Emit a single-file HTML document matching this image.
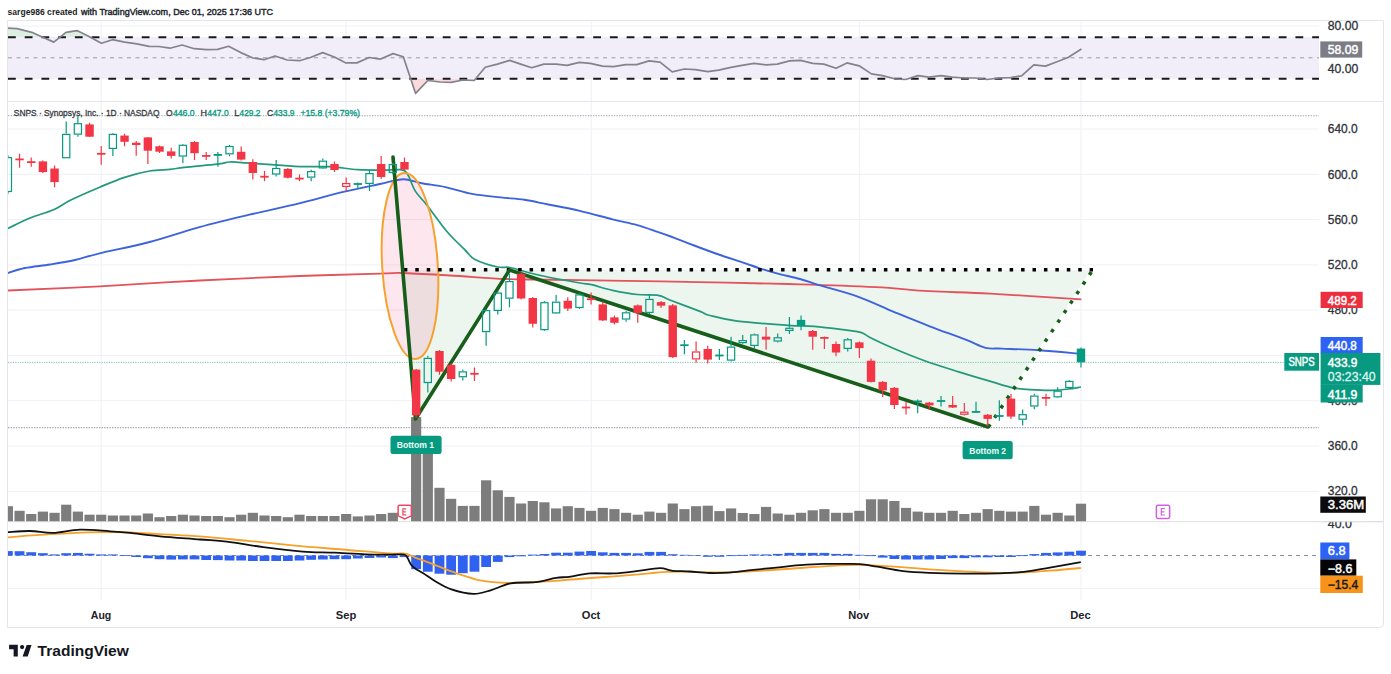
<!DOCTYPE html>
<html><head><meta charset="utf-8"><title>SNPS chart</title><style>html,body{margin:0;padding:0;background:#fff;}body{width:1391px;height:674px;overflow:hidden;font-family:"Liberation Sans",sans-serif;}svg{display:block;}</style></head><body>
<svg width="1391" height="674" viewBox="0 0 1391 674" font-family="Liberation Sans, sans-serif">
<rect width="1391" height="674" fill="#fff"/>
<defs><clipPath id="plot"><rect x="8" y="21" width="1311" height="580"/></clipPath><clipPath id="rsi"><rect x="8" y="21" width="1311" height="80"/></clipPath><clipPath id="main"><rect x="8" y="102" width="1311" height="419.5"/></clipPath><clipPath id="macd"><rect x="8" y="522" width="1311" height="78"/></clipPath></defs>
<g stroke="#eef0f4" stroke-width="1"><line x1="8" y1="129" x2="1319" y2="129"/><line x1="8" y1="174.3" x2="1319" y2="174.3"/><line x1="8" y1="219.6" x2="1319" y2="219.6"/><line x1="8" y1="264.9" x2="1319" y2="264.9"/><line x1="8" y1="310.1" x2="1319" y2="310.1"/><line x1="8" y1="355.4" x2="1319" y2="355.4"/><line x1="8" y1="400.7" x2="1319" y2="400.7"/><line x1="8" y1="446" x2="1319" y2="446"/><line x1="8" y1="491.3" x2="1319" y2="491.3"/><line x1="8" y1="26" x2="1319" y2="26"/><line x1="8" y1="69" x2="1319" y2="69"/><line x1="8" y1="588.6" x2="1319" y2="588.6"/><line x1="101.2" y1="21" x2="101.2" y2="600"/><line x1="346" y1="21" x2="346" y2="600"/><line x1="591.2" y1="21" x2="591.2" y2="600"/><line x1="859.4" y1="21" x2="859.4" y2="600"/><line x1="1081" y1="21" x2="1081" y2="600"/></g>
<path d="M7.5,20.5 H1383.5 V622.5 Q1383.5,627.5 1378.5,627.5 H7.5 Z" fill="none" stroke="#e3e5ea" stroke-width="1"/>
<line x1="7.5" y1="101.5" x2="1383.5" y2="101.5" stroke="#e3e5ea"/>
<line x1="7.5" y1="521.7" x2="1383.5" y2="521.7" stroke="#dcdee3"/>
<g clip-path="url(#rsi)">
<rect x="8" y="37.2" width="1311" height="41.6" fill="#f1eef9"/>
<clipPath id="ob"><rect x="8" y="21" width="1311" height="16.2"/></clipPath>
<clipPath id="os"><rect x="8" y="78.8" width="1311" height="25"/></clipPath>
<polygon clip-path="url(#ob)" points="7.9,37.2 7.9,28.2 17.1,28.7 31.8,32.3 42.8,37.2 53.8,42.1 66.0,32.3 77.0,30.6 88.0,36.0 101.4,43.3 112.4,39.7 124.7,42.1 136.9,43.8 149.1,46.3 158.9,46.5 169.9,48.2 182.1,45.0 194.3,48.7 206.6,49.7 217.6,49.4 228.6,46.3 240.8,52.6 253.0,58.0 264.0,59.7 275.0,56.0 287.2,60.0 299.4,60.7 310.4,57.5 322.7,52.6 334.4,57.0 345.9,62.9 356.9,62.9 369.1,57.5 380.1,59.2 393.1,53.6 403.3,56.8 415.6,93.4 427.8,80.5 440.0,82.0 451.0,82.4 463.2,80.0 474.2,80.5 485.2,67.3 497.4,64.1 509.7,60.4 520.7,64.1 531.7,67.8 543.9,64.1 556.1,64.1 567.1,65.3 579.3,62.4 590.3,63.4 602.5,66.1 613.5,66.6 625.8,64.6 636.8,64.6 649.0,60.9 660.0,62.2 672.2,71.9 684.4,69.0 695.4,69.7 707.7,71.7 718.7,70.2 730.9,67.3 741.9,65.3 754.1,63.4 766.3,64.8 777.3,64.1 789.6,60.9 800.6,60.4 812.8,63.4 823.8,64.1 836.0,68.3 847.0,62.9 859.2,65.8 871.4,73.9 882.4,75.6 894.7,78.8 905.7,79.5 917.9,75.6 928.9,77.1 941.1,75.6 952.1,77.1 964.3,78.0 975.3,78.0 987.3,79.5 998.3,78.0 1010.6,77.6 1021.6,75.8 1033.8,64.8 1045.5,66.1 1057.0,61.7 1068.0,57.5 1081.4,49.0 1081.4,37.2" fill="#dcefe0"/>
<polygon clip-path="url(#os)" points="7.9,78.8 7.9,28.2 17.1,28.7 31.8,32.3 42.8,37.2 53.8,42.1 66.0,32.3 77.0,30.6 88.0,36.0 101.4,43.3 112.4,39.7 124.7,42.1 136.9,43.8 149.1,46.3 158.9,46.5 169.9,48.2 182.1,45.0 194.3,48.7 206.6,49.7 217.6,49.4 228.6,46.3 240.8,52.6 253.0,58.0 264.0,59.7 275.0,56.0 287.2,60.0 299.4,60.7 310.4,57.5 322.7,52.6 334.4,57.0 345.9,62.9 356.9,62.9 369.1,57.5 380.1,59.2 393.1,53.6 403.3,56.8 415.6,93.4 427.8,80.5 440.0,82.0 451.0,82.4 463.2,80.0 474.2,80.5 485.2,67.3 497.4,64.1 509.7,60.4 520.7,64.1 531.7,67.8 543.9,64.1 556.1,64.1 567.1,65.3 579.3,62.4 590.3,63.4 602.5,66.1 613.5,66.6 625.8,64.6 636.8,64.6 649.0,60.9 660.0,62.2 672.2,71.9 684.4,69.0 695.4,69.7 707.7,71.7 718.7,70.2 730.9,67.3 741.9,65.3 754.1,63.4 766.3,64.8 777.3,64.1 789.6,60.9 800.6,60.4 812.8,63.4 823.8,64.1 836.0,68.3 847.0,62.9 859.2,65.8 871.4,73.9 882.4,75.6 894.7,78.8 905.7,79.5 917.9,75.6 928.9,77.1 941.1,75.6 952.1,77.1 964.3,78.0 975.3,78.0 987.3,79.5 998.3,78.0 1010.6,77.6 1021.6,75.8 1033.8,64.8 1045.5,66.1 1057.0,61.7 1068.0,57.5 1081.4,49.0 1081.4,78.8" fill="#fbdada"/>
<line x1="8" y1="57.8" x2="1319" y2="57.8" stroke="#9a9aa2" stroke-width="1" stroke-dasharray="4,4.5"/>
<line x1="8" y1="37.2" x2="1319" y2="37.2" stroke="#1a1a1a" stroke-width="2.1" stroke-dasharray="7.8,8.92"/>
<line x1="8" y1="78.8" x2="1319" y2="78.8" stroke="#1a1a1a" stroke-width="2.1" stroke-dasharray="7.8,8.92"/>
<polyline points="7.9,28.2 17.1,28.7 31.8,32.3 42.8,37.2 53.8,42.1 66.0,32.3 77.0,30.6 88.0,36.0 101.4,43.3 112.4,39.7 124.7,42.1 136.9,43.8 149.1,46.3 158.9,46.5 169.9,48.2 182.1,45.0 194.3,48.7 206.6,49.7 217.6,49.4 228.6,46.3 240.8,52.6 253.0,58.0 264.0,59.7 275.0,56.0 287.2,60.0 299.4,60.7 310.4,57.5 322.7,52.6 334.4,57.0 345.9,62.9 356.9,62.9 369.1,57.5 380.1,59.2 393.1,53.6 403.3,56.8 415.6,93.4 427.8,80.5 440.0,82.0 451.0,82.4 463.2,80.0 474.2,80.5 485.2,67.3 497.4,64.1 509.7,60.4 520.7,64.1 531.7,67.8 543.9,64.1 556.1,64.1 567.1,65.3 579.3,62.4 590.3,63.4 602.5,66.1 613.5,66.6 625.8,64.6 636.8,64.6 649.0,60.9 660.0,62.2 672.2,71.9 684.4,69.0 695.4,69.7 707.7,71.7 718.7,70.2 730.9,67.3 741.9,65.3 754.1,63.4 766.3,64.8 777.3,64.1 789.6,60.9 800.6,60.4 812.8,63.4 823.8,64.1 836.0,68.3 847.0,62.9 859.2,65.8 871.4,73.9 882.4,75.6 894.7,78.8 905.7,79.5 917.9,75.6 928.9,77.1 941.1,75.6 952.1,77.1 964.3,78.0 975.3,78.0 987.3,79.5 998.3,78.0 1010.6,77.6 1021.6,75.8 1033.8,64.8 1045.5,66.1 1057.0,61.7 1068.0,57.5 1081.4,49.0" fill="none" stroke="#858290" stroke-width="1.7" stroke-linejoin="round"/>
</g>
<g clip-path="url(#main)">
<polygon points="403,270 415.5,419 509.5,270" fill="#edf5ef"/>
<polygon points="509.5,270 988,427 1091,270" fill="#edf5ef"/>
<ellipse cx="410" cy="266" rx="27.8" ry="93.2" transform="rotate(-3.5 410 266)" fill="#e91e63" fill-opacity="0.11"/>
<line x1="8" y1="115.7" x2="1319" y2="115.7" stroke="#b4b7bf" stroke-width="1.3" stroke-dasharray="1.4,1.2"/>
<line x1="8" y1="427.6" x2="1319" y2="427.6" stroke="#a4a7b0" stroke-width="1.4" stroke-dasharray="1.4,1.2"/>
<line x1="8" y1="362.4" x2="1284" y2="362.4" stroke="#7cc6b6" stroke-width="1" stroke-dasharray="1.2,1.2"/>
<g fill="#7d7d7d"><rect x="2.80" y="506.2" width="10.2" height="15.3"/><rect x="14.46" y="510.8" width="10.2" height="10.7"/><rect x="26.13" y="514" width="10.2" height="7.5"/><rect x="37.79" y="511.6" width="10.2" height="9.9"/><rect x="49.46" y="512.8" width="10.2" height="8.7"/><rect x="61.12" y="504.7" width="10.2" height="16.8"/><rect x="72.78" y="511.6" width="10.2" height="9.9"/><rect x="84.45" y="514.7" width="10.2" height="6.8"/><rect x="96.11" y="514.7" width="10.2" height="6.8"/><rect x="107.78" y="515.5" width="10.2" height="6.0"/><rect x="119.44" y="515.5" width="10.2" height="6.0"/><rect x="131.10" y="515.5" width="10.2" height="6.0"/><rect x="142.77" y="513.5" width="10.2" height="8.0"/><rect x="154.43" y="517.2" width="10.2" height="4.3"/><rect x="166.10" y="516" width="10.2" height="5.5"/><rect x="177.76" y="514.7" width="10.2" height="6.8"/><rect x="189.42" y="515.5" width="10.2" height="6.0"/><rect x="201.09" y="516" width="10.2" height="5.5"/><rect x="212.75" y="516" width="10.2" height="5.5"/><rect x="224.42" y="517.2" width="10.2" height="4.3"/><rect x="236.08" y="514.7" width="10.2" height="6.8"/><rect x="247.74" y="512.8" width="10.2" height="8.7"/><rect x="259.41" y="515.5" width="10.2" height="6.0"/><rect x="271.07" y="516" width="10.2" height="5.5"/><rect x="282.74" y="517.2" width="10.2" height="4.3"/><rect x="294.40" y="514.7" width="10.2" height="6.8"/><rect x="306.06" y="516" width="10.2" height="5.5"/><rect x="317.73" y="516" width="10.2" height="5.5"/><rect x="329.39" y="516" width="10.2" height="5.5"/><rect x="341.06" y="514" width="10.2" height="7.5"/><rect x="352.72" y="516.4" width="10.2" height="5.1"/><rect x="364.38" y="515.5" width="10.2" height="6.0"/><rect x="376.05" y="514" width="10.2" height="7.5"/><rect x="387.71" y="512.8" width="10.2" height="8.7"/><rect x="399.38" y="521.5" width="10.2" height="0.0"/><rect x="411.04" y="417.1" width="10.2" height="104.4"/><rect x="422.70" y="440" width="10.2" height="81.5"/><rect x="434.37" y="487.8" width="10.2" height="33.7"/><rect x="446.03" y="498.8" width="10.2" height="22.7"/><rect x="457.70" y="505.9" width="10.2" height="15.6"/><rect x="469.36" y="505.9" width="10.2" height="15.6"/><rect x="481.02" y="480.3" width="10.2" height="41.2"/><rect x="492.69" y="490.3" width="10.2" height="31.2"/><rect x="504.35" y="496.9" width="10.2" height="24.6"/><rect x="516.02" y="503.5" width="10.2" height="18.0"/><rect x="527.68" y="501" width="10.2" height="20.5"/><rect x="539.34" y="502.3" width="10.2" height="19.2"/><rect x="551.01" y="508.4" width="10.2" height="13.1"/><rect x="562.67" y="506.2" width="10.2" height="15.3"/><rect x="574.34" y="507.9" width="10.2" height="13.6"/><rect x="586.00" y="510.8" width="10.2" height="10.7"/><rect x="597.66" y="507.9" width="10.2" height="13.6"/><rect x="609.33" y="509.1" width="10.2" height="12.4"/><rect x="620.99" y="512.8" width="10.2" height="8.7"/><rect x="632.66" y="514.7" width="10.2" height="6.8"/><rect x="644.32" y="511.6" width="10.2" height="9.9"/><rect x="655.98" y="512.8" width="10.2" height="8.7"/><rect x="667.65" y="503.5" width="10.2" height="18.0"/><rect x="679.31" y="509.1" width="10.2" height="12.4"/><rect x="690.98" y="506.2" width="10.2" height="15.3"/><rect x="702.64" y="505.7" width="10.2" height="15.8"/><rect x="714.30" y="511.1" width="10.2" height="10.4"/><rect x="725.97" y="508.4" width="10.2" height="13.1"/><rect x="737.63" y="513" width="10.2" height="8.5"/><rect x="749.30" y="514" width="10.2" height="7.5"/><rect x="760.96" y="506.9" width="10.2" height="14.6"/><rect x="772.62" y="513.5" width="10.2" height="8.0"/><rect x="784.29" y="514.7" width="10.2" height="6.8"/><rect x="795.95" y="512.8" width="10.2" height="8.7"/><rect x="807.62" y="510.3" width="10.2" height="11.2"/><rect x="819.28" y="509.1" width="10.2" height="12.4"/><rect x="830.94" y="512.8" width="10.2" height="8.7"/><rect x="842.61" y="512.8" width="10.2" height="8.7"/><rect x="854.27" y="510.8" width="10.2" height="10.7"/><rect x="865.94" y="499.3" width="10.2" height="22.2"/><rect x="877.60" y="499.3" width="10.2" height="22.2"/><rect x="889.26" y="501" width="10.2" height="20.5"/><rect x="900.93" y="507.9" width="10.2" height="13.6"/><rect x="912.59" y="511.6" width="10.2" height="9.9"/><rect x="924.26" y="512.8" width="10.2" height="8.7"/><rect x="935.92" y="512.8" width="10.2" height="8.7"/><rect x="947.58" y="510.8" width="10.2" height="10.7"/><rect x="959.25" y="514" width="10.2" height="7.5"/><rect x="970.91" y="512.8" width="10.2" height="8.7"/><rect x="982.58" y="509.1" width="10.2" height="12.4"/><rect x="994.24" y="510.8" width="10.2" height="10.7"/><rect x="1005.90" y="511.6" width="10.2" height="9.9"/><rect x="1017.57" y="511.6" width="10.2" height="9.9"/><rect x="1029.23" y="505.9" width="10.2" height="15.6"/><rect x="1040.90" y="514.7" width="10.2" height="6.8"/><rect x="1052.56" y="512.8" width="10.2" height="8.7"/><rect x="1064.22" y="515.5" width="10.2" height="6.0"/><rect x="1075.89" y="503.7" width="10.2" height="17.8"/></g>
<path d="M8.0,290.5 C23.3,289.8 68.0,288.0 100.0,286.3 C132.0,284.6 166.7,282.2 200.0,280.5 C233.3,278.8 270.0,277.1 300.0,276.0 C330.0,274.9 363.0,274.2 380.0,273.7 C397.0,273.2 390.3,272.7 402.0,273.0 C413.7,273.3 432.8,274.5 450.0,275.5 C467.2,276.5 490.0,278.3 505.0,279.0 C520.0,279.7 527.5,279.4 540.0,279.6 C552.5,279.8 559.7,279.8 580.0,280.1 C600.3,280.4 637.1,281.0 661.6,281.4 C686.1,281.8 703.8,282.2 726.9,282.7 C750.0,283.2 775.2,283.6 800.0,284.3 C824.8,285.0 854.2,286.0 875.8,287.1 C897.4,288.2 910.7,290.1 929.7,291.2 C948.7,292.3 964.7,292.2 990.0,293.6 C1015.3,295.0 1066.2,298.4 1081.4,299.3" fill="none" stroke="#e2535b" stroke-width="1.8"/>
<path d="M8.0,273.0 C10.8,272.2 17.9,269.4 24.9,268.0 C31.9,266.6 41.5,265.8 49.9,264.5 C58.2,263.2 66.7,261.9 75.0,260.0 C83.3,258.1 87.3,256.3 99.7,253.3 C112.1,250.3 133.0,246.4 149.6,242.0 C166.2,237.6 182.8,231.7 199.4,227.1 C216.0,222.5 232.7,218.6 249.3,214.7 C265.9,210.8 284.0,207.1 299.1,203.4 C314.2,199.7 326.5,195.9 340.0,192.7 C353.5,189.5 371.7,185.8 380.0,184.0 C388.3,182.2 386.0,182.4 390.0,181.6 C394.0,180.8 398.9,178.9 404.2,179.2 C409.5,179.5 414.7,181.9 421.6,183.2 C428.5,184.5 437.0,185.3 445.4,187.1 C453.8,188.9 463.0,192.2 472.2,193.9 C481.4,195.6 492.0,196.4 500.7,197.4 C509.4,198.4 516.5,198.6 524.4,199.8 C532.3,201.0 539.0,202.7 548.2,204.5 C557.4,206.3 569.1,208.4 579.8,210.9 C590.5,213.4 603.0,217.0 612.6,219.4 C622.2,221.8 629.5,223.0 637.1,225.1 C644.7,227.2 652.3,230.1 658.3,232.1 C664.3,234.1 667.0,235.1 673.0,237.3 C679.0,239.5 686.6,242.6 694.2,245.5 C701.8,248.4 710.5,251.7 718.7,254.5 C726.9,257.4 736.4,260.3 743.2,262.6 C750.0,264.9 754.0,266.5 759.5,268.3 C765.0,270.1 769.1,271.4 775.9,273.2 C782.6,275.0 792.9,277.1 800.0,279.0 C807.1,280.9 808.7,282.0 818.3,284.9 C827.9,287.8 845.2,292.1 857.8,296.6 C870.4,301.1 881.8,306.9 893.8,311.9 C905.8,316.8 917.7,321.7 929.7,326.3 C941.7,330.9 956.4,336.1 965.7,339.7 C975.0,343.3 979.4,346.3 985.4,347.8 C991.4,349.3 993.1,348.2 1002.0,348.6 C1010.9,349.0 1025.8,349.4 1039.0,350.3 C1052.2,351.2 1074.3,353.3 1081.4,353.9" fill="none" stroke="#3d63dc" stroke-width="1.9"/>
<path d="M8.0,228.4 C11.7,226.7 22.4,221.1 30.0,218.0 C37.6,214.9 46.8,212.7 53.6,209.7 C60.4,206.7 63.1,203.8 70.8,200.0 C78.5,196.2 90.7,191.0 99.7,187.2 C108.7,183.4 116.3,180.0 124.6,177.3 C132.9,174.6 142.0,172.3 149.6,171.0 C157.2,169.7 164.2,170.0 170.0,169.4 C175.8,168.8 176.5,168.2 184.4,167.3 C192.3,166.4 209.9,165.1 217.4,164.2 C224.9,163.3 225.0,162.2 229.7,162.0 C234.4,161.8 239.9,162.4 245.6,162.8 C251.3,163.2 257.8,163.8 263.9,164.2 C270.0,164.6 276.1,165.0 282.2,165.4 C288.3,165.8 292.6,166.5 300.6,166.7 C308.6,166.9 320.4,166.2 330.0,166.7 C339.6,167.2 348.7,169.1 358.0,169.7 C367.3,170.2 379.0,170.0 386.0,170.0 C393.0,170.0 396.8,169.4 400.0,169.6 C403.2,169.8 403.5,169.8 405.0,171.0 C406.5,172.2 407.3,173.6 409.0,176.9 C410.7,180.2 412.4,186.5 415.3,191.1 C418.2,195.7 422.2,199.1 426.4,204.5 C430.6,209.9 436.7,218.4 440.6,223.5 C444.5,228.6 445.9,230.6 450.0,235.0 C454.1,239.4 460.8,245.9 465.0,250.0 C469.2,254.1 469.6,256.7 475.0,259.5 C480.4,262.3 491.7,265.7 497.5,267.0 C503.3,268.3 504.6,266.5 510.0,267.5 C515.4,268.5 523.3,271.3 530.0,273.0 C536.7,274.7 541.7,275.8 550.0,277.5 C558.3,279.2 573.1,281.8 580.0,283.0 C586.9,284.2 586.0,283.5 591.4,284.7 C596.8,285.9 605.0,288.8 612.6,290.4 C620.2,292.0 629.5,293.7 637.1,294.5 C644.7,295.3 652.8,294.4 658.3,295.3 C663.8,296.2 662.8,297.3 669.8,300.0 C676.8,302.7 693.3,308.8 700.0,311.4 C706.7,314.0 703.8,313.9 710.0,315.5 C716.2,317.1 724.5,319.6 737.5,321.2 C750.5,322.8 775.2,324.4 788.0,325.3 C800.8,326.2 804.4,325.6 814.2,326.4 C824.0,327.2 838.9,329.2 846.8,330.2 C854.7,331.2 857.6,331.4 861.5,332.6 C865.4,333.8 864.8,334.9 870.0,337.5 C875.2,340.1 883.4,344.1 892.6,348.0 C901.8,351.9 914.4,357.1 925.3,361.0 C936.2,364.9 947.0,368.2 957.9,371.6 C968.8,375.0 981.2,378.7 990.5,381.4 C999.8,384.1 1006.8,386.5 1013.4,387.9 C1020.0,389.3 1023.6,389.2 1030.0,389.6 C1036.4,390.0 1045.6,390.4 1052.0,390.3 C1058.4,390.2 1063.5,389.6 1068.3,389.0 C1073.1,388.4 1078.9,387.3 1081.0,387.0" fill="none" stroke="#22997a" stroke-width="1.75"/>
<ellipse cx="410" cy="266" rx="27.8" ry="93.2" transform="rotate(-3.5 410 266)" fill="none" stroke="#f5a12f" stroke-width="2"/>
<line x1="403.85" y1="269.7" x2="1093" y2="269.7" stroke="#000" stroke-width="3.5" stroke-dasharray="3.5,7.93"/>
<polyline points="393,157 415.5,419 509.5,270 988,427" fill="none" stroke="#175e1b" stroke-width="3.6" stroke-linejoin="round" stroke-linecap="round"/>
<line x1="988.2" y1="427.3" x2="1091.7" y2="271.5" stroke="#175e1b" stroke-width="3.5" stroke-dasharray="3.5,7.93"/>
<line x1="7.90" y1="155.0" x2="7.90" y2="157.0" stroke="#089981" stroke-width="1.2"/><line x1="7.90" y1="192.1" x2="7.90" y2="194.0" stroke="#089981" stroke-width="1.2"/><rect x="4.30" y="157.60" width="7.20" height="33.90" fill="none" stroke="#089981" stroke-width="1.2"/><line x1="19.56" y1="153.8" x2="19.56" y2="167.7" stroke="#f23645" stroke-width="1.2"/><rect x="15.36" y="158.50" width="8.4" height="1.8" fill="#f23645"/><line x1="31.23" y1="157.4" x2="31.23" y2="166.8" stroke="#f23645" stroke-width="1.2"/><rect x="27.03" y="161.20" width="8.4" height="1.8" fill="#f23645"/><line x1="42.89" y1="160.5" x2="42.89" y2="173.0" stroke="#f23645" stroke-width="1.2"/><rect x="38.69" y="161.40" width="8.4" height="10.70" fill="#f23645"/><line x1="54.56" y1="165.4" x2="54.56" y2="187.2" stroke="#f23645" stroke-width="1.2"/><rect x="50.36" y="168.50" width="8.4" height="13.60" fill="#f23645"/><line x1="66.22" y1="121.4" x2="66.22" y2="133.8" stroke="#089981" stroke-width="1.2"/><rect x="62.62" y="134.40" width="7.20" height="23.30" fill="none" stroke="#089981" stroke-width="1.2"/><line x1="77.88" y1="115.3" x2="77.88" y2="123.1" stroke="#089981" stroke-width="1.2"/><line x1="77.88" y1="134.7" x2="77.88" y2="136.7" stroke="#089981" stroke-width="1.2"/><rect x="74.28" y="123.70" width="7.20" height="10.40" fill="none" stroke="#089981" stroke-width="1.2"/><line x1="89.55" y1="122.7" x2="89.55" y2="137.0" stroke="#f23645" stroke-width="1.2"/><rect x="85.35" y="124.40" width="8.4" height="12.30" fill="#f23645"/><line x1="101.21" y1="146.0" x2="101.21" y2="164.8" stroke="#f23645" stroke-width="1.2"/><rect x="97.01" y="152.90" width="8.4" height="1.8" fill="#f23645"/><line x1="112.88" y1="133.0" x2="112.88" y2="133.8" stroke="#089981" stroke-width="1.2"/><line x1="112.88" y1="149.0" x2="112.88" y2="156.1" stroke="#089981" stroke-width="1.2"/><rect x="109.28" y="134.40" width="7.20" height="14.00" fill="none" stroke="#089981" stroke-width="1.2"/><line x1="124.54" y1="133.8" x2="124.54" y2="146.3" stroke="#f23645" stroke-width="1.2"/><rect x="120.34" y="135.60" width="8.4" height="6.20" fill="#f23645"/><line x1="136.20" y1="141.0" x2="136.20" y2="155.7" stroke="#f23645" stroke-width="1.2"/><rect x="132.00" y="142.70" width="8.4" height="2.30" fill="#f23645"/><line x1="147.87" y1="137.0" x2="147.87" y2="164.1" stroke="#f23645" stroke-width="1.2"/><rect x="143.67" y="137.40" width="8.4" height="13.30" fill="#f23645"/><line x1="159.53" y1="145.4" x2="159.53" y2="153.0" stroke="#f23645" stroke-width="1.2"/><rect x="155.33" y="146.30" width="8.4" height="5.40" fill="#f23645"/><line x1="171.20" y1="147.7" x2="171.20" y2="158.4" stroke="#f23645" stroke-width="1.2"/><rect x="167.00" y="151.40" width="8.4" height="4.50" fill="#f23645"/><line x1="182.86" y1="144.0" x2="182.86" y2="144.7" stroke="#089981" stroke-width="1.2"/><line x1="182.86" y1="156.6" x2="182.86" y2="163.2" stroke="#089981" stroke-width="1.2"/><rect x="179.26" y="145.30" width="7.20" height="10.70" fill="none" stroke="#089981" stroke-width="1.2"/><line x1="194.52" y1="141.0" x2="194.52" y2="160.0" stroke="#f23645" stroke-width="1.2"/><rect x="190.32" y="142.00" width="8.4" height="11.20" fill="#f23645"/><line x1="206.19" y1="152.0" x2="206.19" y2="160.0" stroke="#f23645" stroke-width="1.2"/><rect x="201.99" y="155.00" width="8.4" height="1.8" fill="#f23645"/><line x1="217.85" y1="152.0" x2="217.85" y2="166.7" stroke="#089981" stroke-width="1.2"/><rect x="213.65" y="154.00" width="8.4" height="1.80" fill="#089981"/><line x1="229.52" y1="144.9" x2="229.52" y2="145.9" stroke="#089981" stroke-width="1.2"/><line x1="229.52" y1="154.4" x2="229.52" y2="156.3" stroke="#089981" stroke-width="1.2"/><rect x="225.92" y="146.50" width="7.20" height="7.30" fill="none" stroke="#089981" stroke-width="1.2"/><line x1="241.18" y1="146.5" x2="241.18" y2="160.5" stroke="#f23645" stroke-width="1.2"/><rect x="236.98" y="151.80" width="8.4" height="7.80" fill="#f23645"/><line x1="252.84" y1="159.3" x2="252.84" y2="179.5" stroke="#f23645" stroke-width="1.2"/><rect x="248.64" y="162.00" width="8.4" height="11.00" fill="#f23645"/><line x1="264.51" y1="171.0" x2="264.51" y2="181.3" stroke="#f23645" stroke-width="1.2"/><rect x="260.31" y="175.80" width="8.4" height="1.8" fill="#f23645"/><line x1="276.17" y1="160.0" x2="276.17" y2="167.9" stroke="#089981" stroke-width="1.2"/><line x1="276.17" y1="174.6" x2="276.17" y2="176.4" stroke="#089981" stroke-width="1.2"/><rect x="272.57" y="168.50" width="7.20" height="5.50" fill="none" stroke="#089981" stroke-width="1.2"/><line x1="287.84" y1="168.0" x2="287.84" y2="178.5" stroke="#f23645" stroke-width="1.2"/><rect x="283.64" y="168.90" width="8.4" height="8.80" fill="#f23645"/><line x1="299.50" y1="174.6" x2="299.50" y2="181.3" stroke="#f23645" stroke-width="1.2"/><rect x="295.30" y="177.70" width="8.4" height="1.8" fill="#f23645"/><line x1="311.16" y1="169.7" x2="311.16" y2="171.0" stroke="#089981" stroke-width="1.2"/><line x1="311.16" y1="177.7" x2="311.16" y2="181.3" stroke="#089981" stroke-width="1.2"/><rect x="307.56" y="171.60" width="7.20" height="5.50" fill="none" stroke="#089981" stroke-width="1.2"/><line x1="322.83" y1="158.4" x2="322.83" y2="160.6" stroke="#089981" stroke-width="1.2"/><line x1="322.83" y1="168.5" x2="322.83" y2="169.0" stroke="#089981" stroke-width="1.2"/><rect x="319.23" y="161.20" width="7.20" height="6.70" fill="none" stroke="#089981" stroke-width="1.2"/><line x1="334.49" y1="161.5" x2="334.49" y2="172.0" stroke="#f23645" stroke-width="1.2"/><rect x="330.29" y="164.00" width="8.4" height="6.00" fill="#f23645"/><line x1="346.16" y1="177.5" x2="346.16" y2="183.0" stroke="#f23645" stroke-width="1.2"/><line x1="346.16" y1="187.0" x2="346.16" y2="191.0" stroke="#f23645" stroke-width="1.2"/><rect x="342.56" y="183.60" width="7.20" height="2.80" fill="none" stroke="#f23645" stroke-width="1.2"/><line x1="357.82" y1="182.5" x2="357.82" y2="189.0" stroke="#089981" stroke-width="1.2"/><rect x="353.62" y="183.10" width="8.4" height="1.8" fill="#089981"/><line x1="369.48" y1="170.0" x2="369.48" y2="173.0" stroke="#089981" stroke-width="1.2"/><line x1="369.48" y1="184.0" x2="369.48" y2="191.0" stroke="#089981" stroke-width="1.2"/><rect x="365.88" y="173.60" width="7.20" height="9.80" fill="none" stroke="#089981" stroke-width="1.2"/><line x1="381.15" y1="156.0" x2="381.15" y2="179.0" stroke="#f23645" stroke-width="1.2"/><rect x="376.95" y="164.00" width="8.4" height="13.00" fill="#f23645"/><line x1="392.81" y1="163.0" x2="392.81" y2="164.0" stroke="#089981" stroke-width="1.2"/><line x1="392.81" y1="173.0" x2="392.81" y2="174.0" stroke="#089981" stroke-width="1.2"/><rect x="389.21" y="164.60" width="7.20" height="7.80" fill="none" stroke="#089981" stroke-width="1.2"/><line x1="404.48" y1="157.5" x2="404.48" y2="170.0" stroke="#f23645" stroke-width="1.2"/><rect x="400.28" y="162.00" width="8.4" height="7.60" fill="#f23645"/><line x1="416.14" y1="369.0" x2="416.14" y2="418.0" stroke="#f23645" stroke-width="1.2"/><rect x="411.94" y="369.60" width="8.4" height="45.70" fill="#f23645"/><line x1="427.80" y1="355.7" x2="427.80" y2="357.8" stroke="#089981" stroke-width="1.2"/><line x1="427.80" y1="383.1" x2="427.80" y2="392.5" stroke="#089981" stroke-width="1.2"/><rect x="424.20" y="358.40" width="7.20" height="24.10" fill="none" stroke="#089981" stroke-width="1.2"/><line x1="439.47" y1="350.0" x2="439.47" y2="374.8" stroke="#f23645" stroke-width="1.2"/><rect x="435.27" y="351.00" width="8.4" height="20.70" fill="#f23645"/><line x1="451.13" y1="363.5" x2="451.13" y2="381.5" stroke="#f23645" stroke-width="1.2"/><rect x="446.93" y="364.80" width="8.4" height="14.20" fill="#f23645"/><line x1="462.80" y1="369.6" x2="462.80" y2="371.3" stroke="#089981" stroke-width="1.2"/><line x1="462.80" y1="377.3" x2="462.80" y2="380.6" stroke="#089981" stroke-width="1.2"/><rect x="459.20" y="371.90" width="7.20" height="4.80" fill="none" stroke="#089981" stroke-width="1.2"/><line x1="474.46" y1="367.5" x2="474.46" y2="381.0" stroke="#f23645" stroke-width="1.2"/><rect x="470.26" y="372.90" width="8.4" height="1.8" fill="#f23645"/><line x1="486.12" y1="309.0" x2="486.12" y2="310.0" stroke="#089981" stroke-width="1.2"/><line x1="486.12" y1="332.2" x2="486.12" y2="345.7" stroke="#089981" stroke-width="1.2"/><rect x="482.52" y="310.60" width="7.20" height="21.00" fill="none" stroke="#089981" stroke-width="1.2"/><line x1="497.79" y1="291.0" x2="497.79" y2="292.5" stroke="#089981" stroke-width="1.2"/><line x1="497.79" y1="311.0" x2="497.79" y2="314.5" stroke="#089981" stroke-width="1.2"/><rect x="494.19" y="293.10" width="7.20" height="17.30" fill="none" stroke="#089981" stroke-width="1.2"/><line x1="509.45" y1="273.75" x2="509.45" y2="281.0" stroke="#089981" stroke-width="1.2"/><line x1="509.45" y1="298.75" x2="509.45" y2="307.3" stroke="#089981" stroke-width="1.2"/><rect x="505.85" y="281.60" width="7.20" height="16.55" fill="none" stroke="#089981" stroke-width="1.2"/><line x1="521.12" y1="272.5" x2="521.12" y2="299.5" stroke="#f23645" stroke-width="1.2"/><rect x="516.92" y="273.75" width="8.4" height="24.75" fill="#f23645"/><line x1="532.78" y1="297.0" x2="532.78" y2="327.5" stroke="#f23645" stroke-width="1.2"/><rect x="528.58" y="298.00" width="8.4" height="25.75" fill="#f23645"/><line x1="544.44" y1="301.0" x2="544.44" y2="302.1" stroke="#089981" stroke-width="1.2"/><line x1="544.44" y1="330.2" x2="544.44" y2="331.0" stroke="#089981" stroke-width="1.2"/><rect x="540.84" y="302.70" width="7.20" height="26.90" fill="none" stroke="#089981" stroke-width="1.2"/><line x1="556.11" y1="295.0" x2="556.11" y2="301.6" stroke="#089981" stroke-width="1.2"/><line x1="556.11" y1="313.5" x2="556.11" y2="314.0" stroke="#089981" stroke-width="1.2"/><rect x="552.51" y="302.20" width="7.20" height="10.70" fill="none" stroke="#089981" stroke-width="1.2"/><line x1="567.77" y1="297.2" x2="567.77" y2="311.0" stroke="#f23645" stroke-width="1.2"/><rect x="563.57" y="300.80" width="8.4" height="7.80" fill="#f23645"/><line x1="579.44" y1="293.0" x2="579.44" y2="294.3" stroke="#089981" stroke-width="1.2"/><line x1="579.44" y1="308.1" x2="579.44" y2="309.0" stroke="#089981" stroke-width="1.2"/><rect x="575.84" y="294.90" width="7.20" height="12.60" fill="none" stroke="#089981" stroke-width="1.2"/><line x1="591.10" y1="292.6" x2="591.10" y2="304.4" stroke="#f23645" stroke-width="1.2"/><rect x="586.90" y="298.30" width="8.4" height="1.8" fill="#f23645"/><line x1="602.76" y1="301.6" x2="602.76" y2="321.0" stroke="#f23645" stroke-width="1.2"/><rect x="598.56" y="304.40" width="8.4" height="16.00" fill="#f23645"/><line x1="614.43" y1="315.5" x2="614.43" y2="324.4" stroke="#f23645" stroke-width="1.2"/><rect x="610.23" y="317.40" width="8.4" height="5.40" fill="#f23645"/><line x1="626.09" y1="311.0" x2="626.09" y2="312.2" stroke="#089981" stroke-width="1.2"/><line x1="626.09" y1="319.6" x2="626.09" y2="321.7" stroke="#089981" stroke-width="1.2"/><rect x="622.49" y="312.80" width="7.20" height="6.20" fill="none" stroke="#089981" stroke-width="1.2"/><line x1="637.76" y1="304.5" x2="637.76" y2="322.8" stroke="#f23645" stroke-width="1.2"/><rect x="633.56" y="305.40" width="8.4" height="7.60" fill="#f23645"/><line x1="649.42" y1="295.0" x2="649.42" y2="298.8" stroke="#089981" stroke-width="1.2"/><line x1="649.42" y1="313.0" x2="649.42" y2="314.0" stroke="#089981" stroke-width="1.2"/><rect x="645.82" y="299.40" width="7.20" height="13.00" fill="none" stroke="#089981" stroke-width="1.2"/><line x1="661.08" y1="301.0" x2="661.08" y2="308.0" stroke="#f23645" stroke-width="1.2"/><rect x="656.88" y="302.10" width="8.4" height="3.60" fill="#f23645"/><line x1="672.75" y1="304.0" x2="672.75" y2="358.0" stroke="#f23645" stroke-width="1.2"/><rect x="668.55" y="305.40" width="8.4" height="51.70" fill="#f23645"/><line x1="684.41" y1="340.0" x2="684.41" y2="354.3" stroke="#089981" stroke-width="1.2"/><rect x="680.21" y="344.30" width="8.4" height="1.8" fill="#089981"/><line x1="696.08" y1="341.6" x2="696.08" y2="351.4" stroke="#f23645" stroke-width="1.2"/><line x1="696.08" y1="359.5" x2="696.08" y2="362.8" stroke="#f23645" stroke-width="1.2"/><rect x="692.48" y="352.00" width="7.20" height="6.90" fill="none" stroke="#f23645" stroke-width="1.2"/><line x1="707.74" y1="345.7" x2="707.74" y2="363.6" stroke="#f23645" stroke-width="1.2"/><rect x="703.54" y="349.00" width="8.4" height="10.60" fill="#f23645"/><line x1="719.40" y1="349.0" x2="719.40" y2="360.0" stroke="#089981" stroke-width="1.2"/><rect x="715.20" y="354.60" width="8.4" height="1.8" fill="#089981"/><line x1="731.07" y1="336.7" x2="731.07" y2="346.5" stroke="#089981" stroke-width="1.2"/><line x1="731.07" y1="360.7" x2="731.07" y2="361.5" stroke="#089981" stroke-width="1.2"/><rect x="727.47" y="347.10" width="7.20" height="13.00" fill="none" stroke="#089981" stroke-width="1.2"/><line x1="742.73" y1="335.0" x2="742.73" y2="340.0" stroke="#089981" stroke-width="1.2"/><line x1="742.73" y1="343.2" x2="742.73" y2="344.0" stroke="#089981" stroke-width="1.2"/><rect x="739.13" y="340.60" width="7.20" height="2.00" fill="none" stroke="#089981" stroke-width="1.2"/><line x1="754.40" y1="333.5" x2="754.40" y2="334.3" stroke="#089981" stroke-width="1.2"/><line x1="754.40" y1="346.0" x2="754.40" y2="348.6" stroke="#089981" stroke-width="1.2"/><rect x="750.80" y="334.90" width="7.20" height="10.50" fill="none" stroke="#089981" stroke-width="1.2"/><line x1="766.06" y1="327.0" x2="766.06" y2="349.8" stroke="#f23645" stroke-width="1.2"/><rect x="761.86" y="336.70" width="8.4" height="2.90" fill="#f23645"/><line x1="777.72" y1="333.4" x2="777.72" y2="337.2" stroke="#089981" stroke-width="1.2"/><line x1="777.72" y1="341.6" x2="777.72" y2="342.5" stroke="#089981" stroke-width="1.2"/><rect x="774.12" y="337.80" width="7.20" height="3.20" fill="none" stroke="#089981" stroke-width="1.2"/><line x1="789.39" y1="317.0" x2="789.39" y2="327.7" stroke="#089981" stroke-width="1.2"/><line x1="789.39" y1="331.0" x2="789.39" y2="334.0" stroke="#089981" stroke-width="1.2"/><rect x="785.79" y="328.30" width="7.20" height="2.10" fill="none" stroke="#089981" stroke-width="1.2"/><line x1="801.05" y1="315.5" x2="801.05" y2="330.2" stroke="#089981" stroke-width="1.2"/><rect x="796.85" y="319.90" width="8.4" height="6.20" fill="#089981"/><line x1="812.72" y1="330.0" x2="812.72" y2="349.8" stroke="#f23645" stroke-width="1.2"/><rect x="808.52" y="331.00" width="8.4" height="5.70" fill="#f23645"/><line x1="824.38" y1="336.5" x2="824.38" y2="349.0" stroke="#f23645" stroke-width="1.2"/><rect x="820.18" y="337.00" width="8.4" height="1.8" fill="#f23645"/><line x1="836.04" y1="341.6" x2="836.04" y2="356.3" stroke="#f23645" stroke-width="1.2"/><rect x="831.84" y="344.00" width="8.4" height="8.50" fill="#f23645"/><line x1="847.71" y1="338.0" x2="847.71" y2="339.2" stroke="#089981" stroke-width="1.2"/><line x1="847.71" y1="349.0" x2="847.71" y2="351.4" stroke="#089981" stroke-width="1.2"/><rect x="844.11" y="339.80" width="7.20" height="8.60" fill="none" stroke="#089981" stroke-width="1.2"/><line x1="859.37" y1="341.5" x2="859.37" y2="357.9" stroke="#f23645" stroke-width="1.2"/><rect x="855.17" y="342.40" width="8.4" height="5.70" fill="#f23645"/><line x1="871.04" y1="358.6" x2="871.04" y2="382.5" stroke="#f23645" stroke-width="1.2"/><rect x="866.84" y="360.70" width="8.4" height="21.20" fill="#f23645"/><line x1="882.70" y1="381.0" x2="882.70" y2="396.9" stroke="#f23645" stroke-width="1.2"/><rect x="878.50" y="381.90" width="8.4" height="8.50" fill="#f23645"/><line x1="894.36" y1="387.0" x2="894.36" y2="409.1" stroke="#f23645" stroke-width="1.2"/><rect x="890.16" y="387.90" width="8.4" height="17.10" fill="#f23645"/><line x1="906.03" y1="401.8" x2="906.03" y2="414.5" stroke="#f23645" stroke-width="1.2"/><rect x="901.83" y="406.60" width="8.4" height="1.8" fill="#f23645"/><line x1="917.69" y1="399.5" x2="917.69" y2="413.2" stroke="#089981" stroke-width="1.2"/><rect x="913.49" y="400.50" width="8.4" height="1.80" fill="#089981"/><line x1="929.36" y1="402.0" x2="929.36" y2="410.0" stroke="#f23645" stroke-width="1.2"/><rect x="925.16" y="402.60" width="8.4" height="2.80" fill="#f23645"/><line x1="941.02" y1="396.0" x2="941.02" y2="406.4" stroke="#089981" stroke-width="1.2"/><rect x="936.82" y="400.10" width="8.4" height="1.8" fill="#089981"/><line x1="952.68" y1="396.0" x2="952.68" y2="408.0" stroke="#f23645" stroke-width="1.2"/><rect x="948.48" y="405.00" width="8.4" height="2.50" fill="#f23645"/><line x1="964.35" y1="403.1" x2="964.35" y2="411.6" stroke="#f23645" stroke-width="1.2"/><line x1="964.35" y1="414.8" x2="964.35" y2="415.5" stroke="#f23645" stroke-width="1.2"/><rect x="960.75" y="412.20" width="7.20" height="2.00" fill="none" stroke="#f23645" stroke-width="1.2"/><line x1="976.01" y1="401.8" x2="976.01" y2="413.0" stroke="#089981" stroke-width="1.2"/><rect x="971.81" y="411.00" width="8.4" height="1.8" fill="#089981"/><line x1="987.68" y1="414.0" x2="987.68" y2="426.3" stroke="#f23645" stroke-width="1.2"/><rect x="983.48" y="414.80" width="8.4" height="4.10" fill="#f23645"/><line x1="999.34" y1="400.3" x2="999.34" y2="420.7" stroke="#089981" stroke-width="1.2"/><rect x="995.14" y="415.10" width="8.4" height="1.8" fill="#089981"/><line x1="1011.00" y1="394.0" x2="1011.00" y2="419.0" stroke="#f23645" stroke-width="1.2"/><rect x="1006.80" y="398.60" width="8.4" height="18.00" fill="#f23645"/><line x1="1022.67" y1="409.5" x2="1022.67" y2="414.1" stroke="#089981" stroke-width="1.2"/><line x1="1022.67" y1="419.8" x2="1022.67" y2="425.5" stroke="#089981" stroke-width="1.2"/><rect x="1019.07" y="414.70" width="7.20" height="4.50" fill="none" stroke="#089981" stroke-width="1.2"/><line x1="1034.33" y1="393.8" x2="1034.33" y2="395.5" stroke="#089981" stroke-width="1.2"/><line x1="1034.33" y1="406.6" x2="1034.33" y2="409.3" stroke="#089981" stroke-width="1.2"/><rect x="1030.73" y="396.10" width="7.20" height="9.90" fill="none" stroke="#089981" stroke-width="1.2"/><line x1="1046.00" y1="393.8" x2="1046.00" y2="406.1" stroke="#f23645" stroke-width="1.2"/><rect x="1041.80" y="397.00" width="8.4" height="1.8" fill="#f23645"/><line x1="1057.66" y1="387.3" x2="1057.66" y2="390.6" stroke="#089981" stroke-width="1.2"/><line x1="1057.66" y1="397.4" x2="1057.66" y2="398.0" stroke="#089981" stroke-width="1.2"/><rect x="1054.06" y="391.20" width="7.20" height="5.60" fill="none" stroke="#089981" stroke-width="1.2"/><line x1="1069.32" y1="380.0" x2="1069.32" y2="380.8" stroke="#089981" stroke-width="1.2"/><line x1="1069.32" y1="388.1" x2="1069.32" y2="389.0" stroke="#089981" stroke-width="1.2"/><rect x="1065.72" y="381.40" width="7.20" height="6.10" fill="none" stroke="#089981" stroke-width="1.2"/><line x1="1080.99" y1="347.5" x2="1080.99" y2="367.6" stroke="#089981" stroke-width="1.2"/><rect x="1076.79" y="348.60" width="8.4" height="13.70" fill="#089981"/>
<rect x="390.5" y="435.8" width="51.1" height="18.3" rx="2.5" fill="#089981"/>
<text x="396.7" y="447.9" font-size="9.8" font-weight="bold" fill="#eafff8" textLength="37.4" lengthAdjust="spacingAndGlyphs">Bottom 1</text>
<rect x="962.6" y="441.1" width="50.1" height="18.2" rx="2.5" fill="#089981"/>
<text x="969.3" y="453.5" font-size="9.8" font-weight="bold" fill="#eafff8" textLength="36.7" lengthAdjust="spacingAndGlyphs">Bottom 2</text>
<path d="M398.15,506.4 Q398.15,505.15 399.5,505.15 H410.0 Q411.35,505.15 411.35,506.4 V515.8 L404.75,519.0 L398.15,515.8 Z" fill="#fff" stroke="#ee4763" stroke-width="1.5"/>
<path d="M402.3,508.3 h3.9 v1.2 h-2.7 v1.75 h2.30 v1.2 h-2.30 v1.75 h2.7 v1.2 h-3.9 Z" fill="#e84a63"/>
<rect x="1156.35" y="505.15" width="13.3" height="13.3" rx="1.6" fill="#fff" stroke="#d45fe6" stroke-width="1.5"/>
<path d="M1160.7,508.0 h4.2 v1.2 h-3.0 v2.00 h2.60 v1.2 h-2.60 v2.00 h3.0 v1.2 h-4.2 Z" fill="#d45fe6"/>
</g>
<text x="13.8" y="116.4" font-size="9.8" fill="#3b3e47" stroke="#3b3e47" stroke-width="0.35" textLength="145.6" lengthAdjust="spacingAndGlyphs">SNPS · Synopsys, Inc. · 1D · NASDAQ</text>
<text x="166" y="116.4" font-size="9.8" fill="#3b3e47" stroke="#3b3e47" stroke-width="0.35" textLength="6.6" lengthAdjust="spacingAndGlyphs">O</text>
<text x="172.9" y="116.4" font-size="9.8" fill="#089981" stroke="#089981" stroke-width="0.35" textLength="21.8" lengthAdjust="spacingAndGlyphs">446.0</text>
<text x="200.5" y="116.4" font-size="9.8" fill="#3b3e47" stroke="#3b3e47" stroke-width="0.35" textLength="6.5" lengthAdjust="spacingAndGlyphs">H</text>
<text x="207.2" y="116.4" font-size="9.8" fill="#089981" stroke="#089981" stroke-width="0.35" textLength="21.5" lengthAdjust="spacingAndGlyphs">447.0</text>
<text x="234.3" y="116.4" font-size="9.8" fill="#3b3e47" stroke="#3b3e47" stroke-width="0.35" textLength="5.1" lengthAdjust="spacingAndGlyphs">L</text>
<text x="239.6" y="116.4" font-size="9.8" fill="#089981" stroke="#089981" stroke-width="0.35" textLength="20.8" lengthAdjust="spacingAndGlyphs">429.2</text>
<text x="266.9" y="116.4" font-size="9.8" fill="#3b3e47" stroke="#3b3e47" stroke-width="0.35" textLength="6.3" lengthAdjust="spacingAndGlyphs">C</text>
<text x="273.4" y="116.4" font-size="9.8" fill="#089981" stroke="#089981" stroke-width="0.35" textLength="21.0" lengthAdjust="spacingAndGlyphs">433.9</text>
<text x="300.4" y="116.4" font-size="9.8" fill="#089981" stroke="#089981" stroke-width="0.35" textLength="59.6" lengthAdjust="spacingAndGlyphs">+15.8 (+3.79%)</text>
<g clip-path="url(#macd)">
<line x1="8" y1="555.5" x2="1319" y2="555.5" stroke="#8a8d96" stroke-width="1" stroke-dasharray="4,4"/>
<g fill="#2f62f0"><rect x="3.00" y="551.10" width="9.8" height="4.40"/><rect x="14.66" y="551.20" width="9.8" height="4.30"/><rect x="26.33" y="552.20" width="9.8" height="3.30"/><rect x="37.99" y="553.20" width="9.8" height="2.30"/><rect x="49.66" y="554.40" width="9.8" height="1.10"/><rect x="61.32" y="553.20" width="9.8" height="2.30"/><rect x="72.98" y="552.90" width="9.8" height="2.60"/><rect x="84.65" y="553.70" width="9.8" height="1.80"/><rect x="96.31" y="554.40" width="9.8" height="1.10"/><rect x="107.98" y="554.40" width="9.8" height="1.10"/><rect x="119.64" y="555.00" width="9.8" height="0.80"/><rect x="131.30" y="555.50" width="9.8" height="1.50"/><rect x="142.97" y="555.50" width="9.8" height="2.70"/><rect x="154.63" y="555.50" width="9.8" height="3.70"/><rect x="166.30" y="555.50" width="9.8" height="4.10"/><rect x="177.96" y="555.50" width="9.8" height="3.90"/><rect x="189.62" y="555.50" width="9.8" height="3.90"/><rect x="201.29" y="555.50" width="9.8" height="4.50"/><rect x="212.95" y="555.50" width="9.8" height="4.60"/><rect x="224.62" y="555.50" width="9.8" height="5.00"/><rect x="236.28" y="555.50" width="9.8" height="5.00"/><rect x="247.94" y="555.50" width="9.8" height="5.50"/><rect x="259.61" y="555.50" width="9.8" height="5.50"/><rect x="271.27" y="555.50" width="9.8" height="5.50"/><rect x="282.94" y="555.50" width="9.8" height="5.50"/><rect x="294.60" y="555.50" width="9.8" height="5.00"/><rect x="306.26" y="555.50" width="9.8" height="4.30"/><rect x="317.93" y="555.50" width="9.8" height="4.00"/><rect x="329.59" y="555.50" width="9.8" height="3.70"/><rect x="341.26" y="555.50" width="9.8" height="3.70"/><rect x="352.92" y="555.50" width="9.8" height="3.00"/><rect x="364.58" y="555.50" width="9.8" height="2.50"/><rect x="376.25" y="555.50" width="9.8" height="2.00"/><rect x="387.91" y="555.50" width="9.8" height="2.60"/><rect x="399.58" y="555.50" width="9.8" height="1.60"/><rect x="411.24" y="555.50" width="9.8" height="13.70"/><rect x="422.90" y="555.50" width="9.8" height="16.20"/><rect x="434.57" y="555.50" width="9.8" height="18.20"/><rect x="446.23" y="555.50" width="9.8" height="19.20"/><rect x="457.90" y="555.50" width="9.8" height="17.70"/><rect x="469.56" y="555.50" width="9.8" height="16.20"/><rect x="481.22" y="555.50" width="9.8" height="11.50"/><rect x="492.89" y="555.50" width="9.8" height="6.40"/><rect x="504.55" y="555.50" width="9.8" height="1.60"/><rect x="516.22" y="555.20" width="9.8" height="1.10"/><rect x="527.88" y="554.60" width="9.8" height="0.90"/><rect x="539.54" y="554.00" width="9.8" height="1.50"/><rect x="551.21" y="552.70" width="9.8" height="2.80"/><rect x="562.87" y="552.70" width="9.8" height="2.80"/><rect x="574.54" y="551.60" width="9.8" height="3.90"/><rect x="586.20" y="551.00" width="9.8" height="4.50"/><rect x="597.86" y="552.30" width="9.8" height="3.20"/><rect x="609.53" y="552.90" width="9.8" height="2.60"/><rect x="621.19" y="552.90" width="9.8" height="2.60"/><rect x="632.86" y="553.30" width="9.8" height="2.20"/><rect x="644.52" y="551.90" width="9.8" height="3.60"/><rect x="656.18" y="551.90" width="9.8" height="3.60"/><rect x="667.85" y="554.20" width="9.8" height="1.30"/><rect x="679.51" y="554.80" width="9.8" height="0.70"/><rect x="691.18" y="555.20" width="9.8" height="0.60"/><rect x="702.84" y="555.50" width="9.8" height="1.30"/><rect x="714.50" y="555.50" width="9.8" height="1.30"/><rect x="726.17" y="555.20" width="9.8" height="0.90"/><rect x="737.83" y="554.90" width="9.8" height="0.90"/><rect x="749.50" y="554.40" width="9.8" height="1.10"/><rect x="761.16" y="554.40" width="9.8" height="1.10"/><rect x="772.82" y="553.90" width="9.8" height="1.60"/><rect x="784.49" y="552.90" width="9.8" height="2.60"/><rect x="796.15" y="552.90" width="9.8" height="2.60"/><rect x="807.82" y="552.90" width="9.8" height="2.60"/><rect x="819.48" y="552.90" width="9.8" height="2.60"/><rect x="831.14" y="553.90" width="9.8" height="1.60"/><rect x="842.81" y="553.90" width="9.8" height="1.60"/><rect x="854.47" y="554.80" width="9.8" height="0.70"/><rect x="866.14" y="555.20" width="9.8" height="0.90"/><rect x="877.80" y="555.50" width="9.8" height="2.10"/><rect x="889.46" y="555.50" width="9.8" height="3.50"/><rect x="901.13" y="555.50" width="9.8" height="4.00"/><rect x="912.79" y="555.50" width="9.8" height="4.00"/><rect x="924.46" y="555.50" width="9.8" height="4.00"/><rect x="936.12" y="555.50" width="9.8" height="3.50"/><rect x="947.78" y="555.50" width="9.8" height="2.60"/><rect x="959.45" y="555.50" width="9.8" height="2.60"/><rect x="971.11" y="555.50" width="9.8" height="1.80"/><rect x="982.78" y="555.50" width="9.8" height="1.80"/><rect x="994.44" y="555.50" width="9.8" height="1.50"/><rect x="1006.10" y="555.50" width="9.8" height="1.50"/><rect x="1017.77" y="555.20" width="9.8" height="0.90"/><rect x="1029.43" y="554.10" width="9.8" height="1.40"/><rect x="1041.10" y="552.90" width="9.8" height="2.60"/><rect x="1052.76" y="552.40" width="9.8" height="3.10"/><rect x="1064.42" y="551.70" width="9.8" height="3.80"/><rect x="1076.09" y="550.70" width="9.8" height="4.80"/></g>
<path d="M7.9,537.3 C14.9,536.8 34.6,535.1 50.0,534.2 C65.3,533.3 86.7,532.4 100.0,532.1 C113.3,531.8 120.0,532.0 130.0,532.4 C140.0,532.8 148.3,533.5 160.0,534.2 C171.7,534.9 185.4,535.3 200.0,536.4 C214.6,537.5 231.6,539.3 247.4,540.8 C263.2,542.3 279.1,544.1 294.9,545.6 C310.7,547.1 326.5,548.2 342.3,549.5 C358.1,550.8 379.3,552.8 389.8,553.5 C400.3,554.2 400.9,552.9 405.1,553.6 C409.3,554.3 411.0,556.0 415.2,557.6 C419.4,559.2 425.3,561.2 430.3,563.1 C435.3,565.0 440.4,567.3 445.4,569.2 C450.4,571.1 455.5,573.0 460.5,574.7 C465.5,576.4 470.5,578.1 475.5,579.3 C480.5,580.5 485.6,581.2 490.6,581.8 C495.6,582.4 500.8,582.6 505.7,582.8 C510.6,582.9 513.3,582.9 520.0,582.7 C526.7,582.5 537.3,581.9 545.9,581.4 C554.5,580.9 563.2,580.1 571.8,579.5 C580.4,578.9 589.0,578.1 597.6,577.5 C606.2,576.9 614.9,576.3 623.5,575.6 C632.1,574.9 642.9,574.0 649.4,573.4 C655.9,572.8 656.9,572.4 662.3,572.1 C667.7,571.8 673.9,571.7 681.7,571.7 C689.6,571.8 701.5,572.3 709.4,572.4 C717.2,572.5 721.2,572.6 728.8,572.4 C736.3,572.2 743.9,571.8 754.7,571.1 C765.5,570.5 780.6,569.4 793.5,568.5 C806.4,567.6 821.5,566.5 832.3,565.9 C843.1,565.3 847.8,564.7 858.2,564.8 C868.6,564.9 882.7,566.0 894.5,566.7 C906.3,567.5 917.5,568.5 929.0,569.3 C940.5,570.1 952.0,570.8 963.5,571.4 C975.0,572.0 987.9,572.6 998.0,572.8 C1008.1,573.0 1015.3,572.8 1023.9,572.4 C1032.5,572.0 1040.3,571.4 1049.8,570.7 C1059.3,570.0 1075.6,568.5 1080.8,568.0" fill="none" stroke="#f7a02a" stroke-width="1.8"/>
<path d="M7.9,532.1 C11.6,531.9 22.5,530.9 30.0,531.0 C37.5,531.1 44.7,533.1 53.0,532.9 C61.3,532.7 70.5,530.0 80.0,529.7 C89.5,529.4 101.7,530.8 110.0,531.3 C118.3,531.8 121.7,532.0 130.0,532.9 C138.3,533.8 148.3,535.3 160.0,536.4 C171.7,537.5 188.8,538.6 200.0,539.5 C211.2,540.4 216.3,540.3 226.9,541.6 C237.5,542.9 250.7,545.4 263.3,547.1 C275.9,548.8 291.0,550.7 302.8,551.6 C314.6,552.5 323.9,552.2 334.4,552.7 C344.9,553.2 356.7,554.0 366.0,554.3 C375.3,554.6 383.6,554.5 390.0,554.6 C396.4,554.7 401.2,554.0 404.1,554.6 C407.0,555.2 406.4,556.4 407.6,558.1 C408.8,559.8 409.7,562.9 411.1,564.7 C412.5,566.6 414.2,567.8 416.2,569.2 C418.2,570.6 420.0,571.2 423.2,573.2 C426.4,575.2 430.6,578.6 435.3,581.3 C440.0,584.0 445.0,587.2 451.4,589.3 C457.8,591.4 467.0,593.6 473.5,593.8 C480.0,594.0 484.4,592.0 490.6,590.3 C496.8,588.5 503.3,584.7 510.8,583.3 C518.3,581.9 527.9,583.0 535.5,582.1 C543.1,581.2 550.6,578.7 556.2,577.8 C561.8,576.9 563.6,577.6 569.2,576.9 C574.8,576.2 582.6,574.0 589.9,573.4 C597.2,572.8 605.4,573.8 613.2,573.4 C621.0,573.0 628.7,572.0 636.5,571.1 C644.3,570.2 653.8,568.2 659.8,568.2 C665.8,568.2 667.7,570.2 672.7,570.8 C677.7,571.3 683.9,571.1 690.0,571.5 C696.1,571.9 702.9,572.8 709.4,573.0 C715.9,573.2 722.3,573.0 728.8,572.6 C735.3,572.2 740.7,571.2 748.2,570.4 C755.8,569.6 765.5,568.7 774.1,567.8 C782.7,566.9 791.8,565.9 800.0,565.2 C808.2,564.6 815.8,564.1 823.3,563.9 C830.8,563.7 839.2,563.8 845.3,563.9 C851.4,564.0 854.7,563.7 860.0,564.2 C865.3,564.7 870.1,565.6 877.3,566.7 C884.5,567.9 894.5,570.1 903.1,571.1 C911.7,572.1 918.9,572.4 929.0,572.8 C939.1,573.2 952.0,573.5 963.5,573.6 C975.0,573.7 987.9,573.6 998.0,573.3 C1008.1,573.0 1015.3,572.8 1023.9,571.9 C1032.5,571.0 1040.3,569.2 1049.8,567.6 C1059.3,566.0 1075.6,563.0 1080.8,562.1" fill="none" stroke="#111" stroke-width="1.8"/>
</g>
<text x="1327.8" y="30.3" font-size="12" fill="#30333b" stroke="#30333b" stroke-width="0.3" textLength="30.5" lengthAdjust="spacingAndGlyphs">80.00</text><text x="1327.8" y="73.0" font-size="12" fill="#30333b" stroke="#30333b" stroke-width="0.3" textLength="30.5" lengthAdjust="spacingAndGlyphs">40.00</text><text x="1327.8" y="133.3" font-size="12" fill="#30333b" stroke="#30333b" stroke-width="0.3" textLength="29.9" lengthAdjust="spacingAndGlyphs">640.0</text><text x="1327.8" y="178.6" font-size="12" fill="#30333b" stroke="#30333b" stroke-width="0.3" textLength="29.9" lengthAdjust="spacingAndGlyphs">600.0</text><text x="1327.8" y="223.9" font-size="12" fill="#30333b" stroke="#30333b" stroke-width="0.3" textLength="29.9" lengthAdjust="spacingAndGlyphs">560.0</text><text x="1327.8" y="269.2" font-size="12" fill="#30333b" stroke="#30333b" stroke-width="0.3" textLength="29.9" lengthAdjust="spacingAndGlyphs">520.0</text><text x="1327.8" y="313.8" font-size="12" fill="#30333b" stroke="#30333b" stroke-width="0.3" textLength="29.9" lengthAdjust="spacingAndGlyphs">480.0</text><text x="1327.8" y="404.8" font-size="12" fill="#30333b" stroke="#30333b" stroke-width="0.3" textLength="29.9" lengthAdjust="spacingAndGlyphs">400.0</text><text x="1327.8" y="450.3" font-size="12" fill="#30333b" stroke="#30333b" stroke-width="0.3" textLength="29.9" lengthAdjust="spacingAndGlyphs">360.0</text><text x="1327.8" y="494.8" font-size="12" fill="#30333b" stroke="#30333b" stroke-width="0.3" textLength="29.9" lengthAdjust="spacingAndGlyphs">320.0</text><text x="1327.8" y="527.5" font-size="12" fill="#30333b" stroke="#30333b" stroke-width="0.3" textLength="24" lengthAdjust="spacingAndGlyphs">40.0</text>
<rect x="1320" y="514" width="50" height="7.3" fill="#fff"/>
<line x1="1319" y1="521.7" x2="1383.5" y2="521.7" stroke="#dcdee3"/>
<rect x="1320.3" y="41.4" width="41.9" height="16.2" fill="#7b7c85"/>
<text x="1327.8" y="53.9" font-size="12" fill="#fff" stroke="#fff" stroke-width="0.45" textLength="30.5" lengthAdjust="spacingAndGlyphs">58.09</text>
<rect x="1320.6" y="291.8" width="42.1" height="16.2" fill="#ec2f3f"/>
<text x="1327.8" y="304.7" font-size="12" fill="#fff" stroke="#fff" stroke-width="0.45" textLength="29" lengthAdjust="spacingAndGlyphs">489.2</text>
<rect x="1320.6" y="337" width="42.1" height="16.7" fill="#2e62f2"/>
<text x="1327.8" y="350.3" font-size="12" fill="#fff" stroke="#fff" stroke-width="0.45" textLength="29" lengthAdjust="spacingAndGlyphs">440.8</text>
<rect x="1320.6" y="353" width="59.8" height="31.9" fill="#089981"/>
<text x="1327.8" y="367.3" font-size="12" fill="#fff" stroke="#fff" stroke-width="0.45" textLength="29.6" lengthAdjust="spacingAndGlyphs">433.9</text>
<text x="1327.8" y="380.9" font-size="12" fill="#dff5ef" stroke="#dff5ef" stroke-width="0.3" textLength="47.8" lengthAdjust="spacingAndGlyphs">03:23:40</text>
<rect x="1320.6" y="384.9" width="42.1" height="17.6" fill="#089981"/>
<text x="1327.8" y="398.5" font-size="12" fill="#fff" stroke="#fff" stroke-width="0.45" textLength="29.6" lengthAdjust="spacingAndGlyphs">411.9</text>
<rect x="1284.3" y="353" width="34.7" height="17.7" fill="#089981"/>
<text x="1288.4" y="366.3" font-size="12" fill="#fff" stroke="#fff" stroke-width="0.45" textLength="26.4" lengthAdjust="spacingAndGlyphs">SNPS</text>
<rect x="1320.3" y="496.5" width="45.5" height="16.3" fill="#0c0c0c"/>
<text x="1327.8" y="508.8" font-size="12" fill="#fff" stroke="#fff" stroke-width="0.45" textLength="36.5" lengthAdjust="spacingAndGlyphs">3.36M</text>
<rect x="1320.3" y="542.5" width="29.1" height="16.9" fill="#2d63f5"/>
<text x="1327.8" y="555.1" font-size="12" fill="#fff" stroke="#fff" stroke-width="0.45" textLength="17.8" lengthAdjust="spacingAndGlyphs">6.8</text>
<rect x="1320.3" y="559.4" width="36.0" height="16.3" fill="#050505"/>
<text x="1327.8" y="572.6" font-size="12" fill="#fff" stroke="#fff" stroke-width="0.45" textLength="24.6" lengthAdjust="spacingAndGlyphs">−8.6</text>
<rect x="1320.3" y="575.7" width="42.5" height="17.3" fill="#f7931a"/>
<text x="1327.8" y="588.9" font-size="12" fill="#1a1a1a" stroke="#1a1a1a" stroke-width="0.45" textLength="30.5" lengthAdjust="spacingAndGlyphs">−15.4</text>
<text x="90.8" y="618.6" font-size="11.5" font-weight="bold" fill="#20232b" textLength="20.5" lengthAdjust="spacingAndGlyphs">Aug</text>
<text x="335.8" y="618.6" font-size="11.5" font-weight="bold" fill="#20232b" textLength="20.5" lengthAdjust="spacingAndGlyphs">Sep</text>
<text x="581.8" y="618.6" font-size="11.5" font-weight="bold" fill="#20232b" textLength="18.5" lengthAdjust="spacingAndGlyphs">Oct</text>
<text x="848.2" y="618.6" font-size="11.5" font-weight="bold" fill="#20232b" textLength="21" lengthAdjust="spacingAndGlyphs">Nov</text>
<text x="1070.2" y="618.6" font-size="11.5" font-weight="bold" fill="#20232b" textLength="20.5" lengthAdjust="spacingAndGlyphs">Dec</text>
<text x="7.6" y="14.9" font-size="9.8" fill="#1b1e26" font-weight="bold" textLength="70" lengthAdjust="spacingAndGlyphs">sarge986 created</text>
<text x="81" y="14.9" font-size="9.8" fill="#22252d" stroke="#22252d" stroke-width="0.45" textLength="192" lengthAdjust="spacingAndGlyphs">with TradingView.com, Dec 01, 2025 17:36 UTC</text>
<g fill="#131722"><path d="M9.1,644.8 H17.8 V656.4 H13.6 V649.2 H9.1 Z"/><circle cx="22.1" cy="647.1" r="2.15"/><path d="M26.7,644.9 H31.5 L27.7,656.4 H22.6 Z"/></g>
<text x="37.6" y="655.9" font-size="15.5" font-weight="bold" fill="#131722" textLength="91.2" lengthAdjust="spacingAndGlyphs">TradingView</text>
</svg>
</body></html>
